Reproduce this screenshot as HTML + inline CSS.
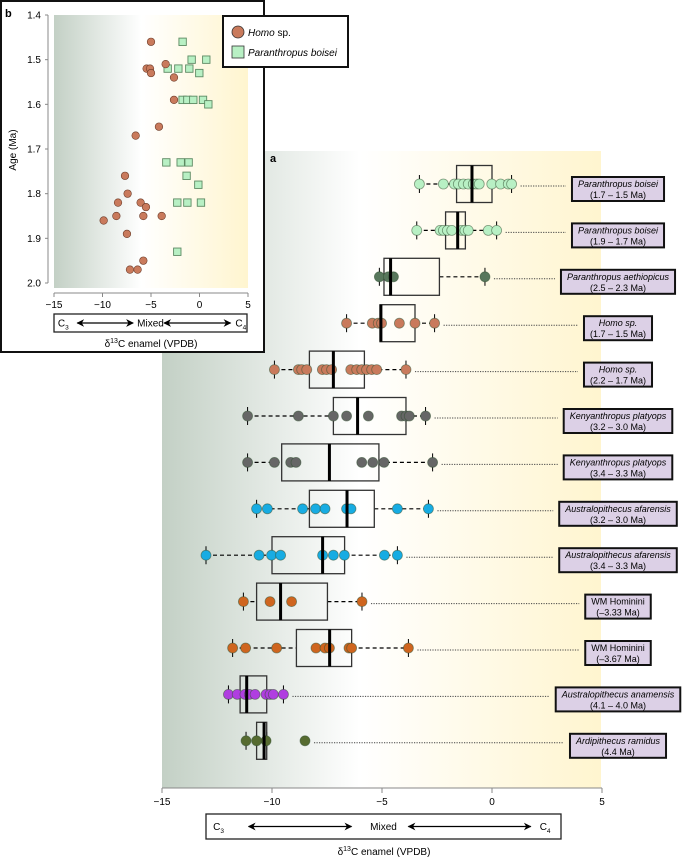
<!DOCTYPE html>
<html><head><meta charset="utf-8"><style>
html,body{margin:0;padding:0;background:#fff;}
svg{display:block;font-family:"Liberation Sans",sans-serif;}
</style></head><body>
<svg id="fig" width="685" height="858" viewBox="0 0 685 858" xmlns="http://www.w3.org/2000/svg">
<defs>
<linearGradient id="bg" x1="0" x2="1" y1="0" y2="0">
<stop offset="0" stop-color="#c3d0c5"/><stop offset="0.45" stop-color="#ffffff"/><stop offset="1" stop-color="#fff5cf"/>
</linearGradient>
<marker id="ah" viewBox="0 0 10 10" refX="9" refY="5" markerWidth="6" markerHeight="6" orient="auto-start-reverse"><path d="M0,0 L10,5 L0,10 L3,5 z" fill="#000"/></marker>
</defs>
<g id="main"></g>
<g id="inset"></g>
</svg>
<script>
// ---------- Panel a data ----------
const groupNames = ["Paranthropus boisei","Paranthropus boisei","Paranthropus aethiopicus","Homo sp.","Homo sp.","Kenyanthropus platyops","Kenyanthropus platyops","Australopithecus afarensis","Australopithecus afarensis","WM Hominini","WM Hominini","Australopithecus anamensis","Ardipithecus ramidus"];
const groupAges = ["(1.7 – 1.5 Ma)","(1.9 – 1.7 Ma)","(2.5 – 2.3 Ma)","(1.7 – 1.5 Ma)","(2.2 – 1.7 Ma)","(3.2 – 3.0 Ma)","(3.4 – 3.3 Ma)","(3.2 – 3.0 Ma)","(3.4 – 3.3 Ma)","(–3.33 Ma)","(–3.67 Ma)","(4.1 – 4.0 Ma)","(4.4 Ma)"];
const groupItalic = [true,true,true,true,true,true,true,true,true,false,false,true,true];
const groupColors = ["#b8f0c4","#b8f0c4","#58775c","#c97a5c","#c97a5c","#666666","#666666","#17ace3","#17ace3","#cf651f","#cf651f","#b03ee0","#566b30"];
const groupValues = [
 [-3.30,-2.21,-1.71,-1.53,-1.30,-1.08,-0.85,-0.70,-0.58,-0.01,0.39,0.74,0.89],
 [-3.42,-2.36,-2.21,-2.03,-1.83,-1.38,-1.23,-1.08,-0.17,0.21],
 [-5.12,-4.71,-4.48,-0.32],
 [-6.61,-5.44,-5.17,-5.02,-4.21,-3.50,-2.61],
 [-9.89,-8.80,-8.65,-8.42,-7.71,-7.52,-7.29,-6.42,-6.15,-5.92,-5.70,-5.47,-5.24,-3.91],
 [-11.11,-8.80,-7.21,-6.61,-5.62,-4.11,-3.91,-3.76,-3.02],
 [-11.11,-9.89,-9.15,-8.91,-5.92,-5.42,-4.91,-2.70],
 [-10.70,-10.21,-8.61,-8.02,-7.59,-6.61,-6.41,-4.30,-2.89],
 [-13.0,-10.59,-10.02,-9.61,-7.70,-7.21,-6.71,-4.89,-4.30],
 [-11.30,-10.09,-9.11,-5.91],
 [-11.79,-11.20,-9.79,-8.0,-7.59,-7.39,-6.50,-6.38,-3.80],
 [-11.98,-11.58,-11.23,-11.03,-10.77,-10.27,-10.09,-9.94,-9.48],
 [-11.18,-10.70,-10.27,-8.5]
];
const boxQ1 = [-1.61,-2.11,-4.91,-5.09,-8.30,-7.21,-9.56,-8.30,-10.0,-10.70,-8.89,-11.45,-10.70];
const boxMedian = [-0.91,-1.56,-4.61,-5.05,-7.21,-6.11,-7.39,-6.59,-7.70,-9.61,-7.38,-11.15,-10.36];
const boxQ3 = [0.0,-1.21,-2.39,-3.50,-5.80,-3.91,-5.14,-5.35,-6.70,-7.48,-6.38,-10.24,-10.24];
const whiskerLo = [-3.30,-3.42,-5.12,-6.61,-9.89,-11.11,-11.11,-10.70,-13.0,-11.30,-11.79,-11.98,-11.18];
const whiskerHi = [0.89,0.21,-0.32,-2.61,-3.91,-3.02,-2.70,-2.89,-4.30,-5.91,-3.80,-9.48,-10.24];
const xTicks = [-15,-10,-5,0,5];
const xTickLabels = ["−15","−10","−5","0","5"];

// ---------- Panel b data ----------
const homoX = [-5.0,-3.49,-5.45,-5.1,-5.0,-2.63,-2.63,-4.18,-6.58,-7.68,-7.41,-8.40,-6.07,-5.52,-8.57,-5.79,-3.90,-9.88,-7.48,-5.79,-7.17,-6.38];
const homoAge = [1.46,1.51,1.52,1.52,1.53,1.54,1.59,1.65,1.67,1.76,1.80,1.82,1.82,1.83,1.85,1.85,1.85,1.86,1.89,1.95,1.97,1.97];
const boiseiX = [-1.74,-0.81,0.70,-3.28,-2.18,-1.05,-0.02,-1.74,-1.25,-0.64,0.36,0.91,-3.42,-1.94,-1.12,-1.33,-0.12,-2.29,-1.25,0.15,-2.29];
const boiseiAge = [1.46,1.50,1.50,1.52,1.52,1.52,1.53,1.59,1.59,1.59,1.59,1.60,1.73,1.73,1.73,1.76,1.78,1.82,1.82,1.82,1.93];
const yTicks = [1.4,1.5,1.6,1.7,1.8,1.9,2.0];
const yTickLabels = ["1.4","1.5","1.6","1.7","1.8","1.9","2.0"];

const NS="http://www.w3.org/2000/svg";
function mk(parent,tag,attrs,text){const e=document.createElementNS(NS,tag);for(const k in attrs)e.setAttribute(k,attrs[k]);if(text!==undefined)e.textContent=text;parent.appendChild(e);return e;}

// ---------- Panel a ----------
const A=document.getElementById('main');
const xA=v=>162+(v+15)*22;
const rowY=i=>184+i*46.4;
let e;
e=mk(A,'rect',{x:162,y:151,width:439,height:637,fill:'url(#bg)'});


e=mk(A,'text',{x:270,y:162,'font-size':11,'font-weight':'bold'},'a');


groupNames.forEach((nm,i)=>{
  const y=rowY(i), g=mk(A,'g',{});
  
  
  // whiskers
  e=mk(g,'line',{x1:xA(whiskerLo[i]),x2:xA(boxQ1[i]),y1:y,y2:y,stroke:'#000','stroke-width':1.2,'stroke-dasharray':'4,3'});
  
  
  e=mk(g,'line',{x1:xA(boxQ3[i]),x2:xA(whiskerHi[i]),y1:y,y2:y,stroke:'#000','stroke-width':1.2,'stroke-dasharray':'4,3'});
  
  
  [whiskerLo[i],whiskerHi[i]].forEach(w=>{
    e=mk(g,'line',{x1:xA(w),x2:xA(w),y1:y-9,y2:y+9,stroke:'#000','stroke-width':1});
    
    
  });
  e=mk(g,'rect',{x:xA(boxQ1[i]),y:y-18.5,width:xA(boxQ3[i])-xA(boxQ1[i]),height:37,fill:'none',stroke:'#333','stroke-width':1.3});
  
  
  groupValues[i].forEach(v=>{
    e=mk(g,'circle',{cx:xA(v),cy:y,r:5,fill:groupColors[i],stroke:'#2f4f30','stroke-opacity':0.55,'stroke-width':0.8});
    
    
  });
  e=mk(g,'line',{x1:xA(boxMedian[i]),x2:xA(boxMedian[i]),y1:y-18.5,y2:y+18.5,stroke:'#000','stroke-width':3});
  
  
  // label box
  const lg=mk(g,'g',{});
  
  
  const cx=618, ly=y+5;
  const r=mk(lg,'rect',{fill:'#dcd0e6',stroke:'#111','stroke-width':2});
  const t1=mk(lg,'text',{x:cx,y:ly-2,'text-anchor':'middle','font-size':9,'font-style':groupItalic[i]?'italic':'normal'},nm);
  const t2=mk(lg,'text',{x:cx,y:ly+9,'text-anchor':'middle','font-size':9},groupAges[i]);
  const w=Math.max(t1.getComputedTextLength(),t2.getComputedTextLength())+12;
  r.setAttribute('x',cx-w/2);r.setAttribute('y',ly-12);r.setAttribute('width',w);r.setAttribute('height',24);
  const maxV=Math.max(...groupValues[i]);
  e=mk(g,'line',{x1:xA(maxV)+9,x2:cx-w/2-6,y1:y+2,y2:y+2,stroke:'#444','stroke-width':1,'stroke-dasharray':'1.2,1.3'});
  
  
});
// x axis
e=mk(A,'line',{x1:162,x2:602,y1:788,y2:788,stroke:'#888','stroke-width':1});


xTicks.forEach((t,k)=>{
  e=mk(A,'line',{x1:xA(t),x2:xA(t),y1:788,y2:793,stroke:'#888'});
  
  
  e=mk(A,'text',{x:xA(t),y:805,'text-anchor':'middle','font-size':10},xTickLabels[k]);
  
  
});
function dietBox(P,x0,x1,y0,y1,fs,name){
  const g=mk(P,'g',{});
  
  
  mk(g,'rect',{x:x0,y:y0,width:x1-x0,height:y1-y0,fill:'#fff',stroke:'#222','stroke-width':1.3});
  const w=x1-x0, ym=(y0+y1)/2;
  const c3=mk(g,'text',{x:x0+w*0.02,y:ym+fs*0.36,'font-size':fs});c3.innerHTML='C<tspan font-size="'+(fs*0.65)+'" dy="3">3</tspan>';
  mk(g,'text',{x:x0+w*0.5,y:ym+fs*0.36,'font-size':fs,'text-anchor':'middle'},'Mixed');
  const c4=mk(g,'text',{x:x0+w*0.94,y:ym+fs*0.36,'font-size':fs});c4.innerHTML='C<tspan font-size="'+(fs*0.65)+'" dy="3">4</tspan>';
  mk(g,'line',{x1:x0+w*0.12,x2:x0+w*0.41,y1:ym,y2:ym,stroke:'#000','stroke-width':1.3,'marker-start':'url(#ah)','marker-end':'url(#ah)'});
  mk(g,'line',{x1:x0+w*0.57,x2:x0+w*0.915,y1:ym,y2:ym,stroke:'#000','stroke-width':1.3,'marker-start':'url(#ah)','marker-end':'url(#ah)'});
}
dietBox(A,206,561,814,839,10,'diet-legend-a');
e=mk(A,'text',{x:384,y:855,'text-anchor':'middle','font-size':10});
e.innerHTML='δ<tspan font-size="7" dy="-4">13</tspan><tspan dy="4">C enamel (VPDB)</tspan>';



// ---------- Panel b ----------
const B=document.getElementById('inset');
const xB=v=>54+(v+15)*9.7;
const yB=a=>15+(a-1.4)/0.6*268;
e=mk(B,'rect',{x:1,y:1,width:263,height:351,fill:'#fff',stroke:'#111','stroke-width':2});


e=mk(B,'rect',{x:54,y:15,width:194,height:273,fill:'url(#bg)'});


e=mk(B,'text',{x:5,y:17,'font-size':11,'font-weight':'bold'},'b');


e=mk(B,'line',{x1:48,x2:48,y1:15,y2:283,stroke:'#888'});


yTicks.forEach((t,k)=>{
  e=mk(B,'line',{x1:45,x2:48,y1:yB(t),y2:yB(t),stroke:'#888'});
  
  
  e=mk(B,'text',{x:41,y:yB(t)+3.5,'text-anchor':'end','font-size':10},yTickLabels[k]);
  
  
});
e=mk(B,'text',{x:0,y:0,'font-size':10,'text-anchor':'middle',transform:'translate(16,150) rotate(-90)'},'Age (Ma)');


e=mk(B,'line',{x1:54,x2:248,y1:293,y2:293,stroke:'#888'});


xTicks.forEach((t,k)=>{
  e=mk(B,'line',{x1:xB(t),x2:xB(t),y1:293,y2:297,stroke:'#888'});
  
  
  e=mk(B,'text',{x:xB(t),y:308,'text-anchor':'middle','font-size':10},xTickLabels[k]);
  
  
});
dietBox(B,54,247,314,332,10,'diet-legend-b');
e=mk(B,'text',{x:151,y:347,'text-anchor':'middle','font-size':10});
e.innerHTML='δ<tspan font-size="7" dy="-4">13</tspan><tspan dy="4">C enamel (VPDB)</tspan>';


boiseiX.forEach((v,k)=>{
  e=mk(B,'rect',{x:xB(v)-3.7,y:yB(boiseiAge[k])-3.7,width:7.4,height:7.4,fill:'#b8f0c4',stroke:'#5d8a63','stroke-width':0.9});
  
  
});
homoX.forEach((v,k)=>{
  e=mk(B,'circle',{cx:xB(v),cy:yB(homoAge[k]),r:3.8,fill:'#c97a5c',stroke:'#6b3b28','stroke-width':0.6});
  
  
});
// legend
const L=mk(B,'g',{});


mk(L,'rect',{x:223,y:16,width:125,height:51,fill:'#fff',stroke:'#111','stroke-width':2});
e=mk(L,'circle',{cx:238,cy:32,r:6,fill:'#c97a5c',stroke:'#333','stroke-width':0.8});


e=mk(L,'text',{x:248,y:36,'font-size':10});e.innerHTML='<tspan font-style="italic">Homo</tspan> sp.';
e=mk(L,'rect',{x:232,y:46,width:12,height:12,fill:'#b8f0c4',stroke:'#333','stroke-width':0.8});


mk(L,'text',{x:248,y:56,'font-size':10,'font-style':'italic'},'Paranthropus boisei');
</script>
</body></html>
